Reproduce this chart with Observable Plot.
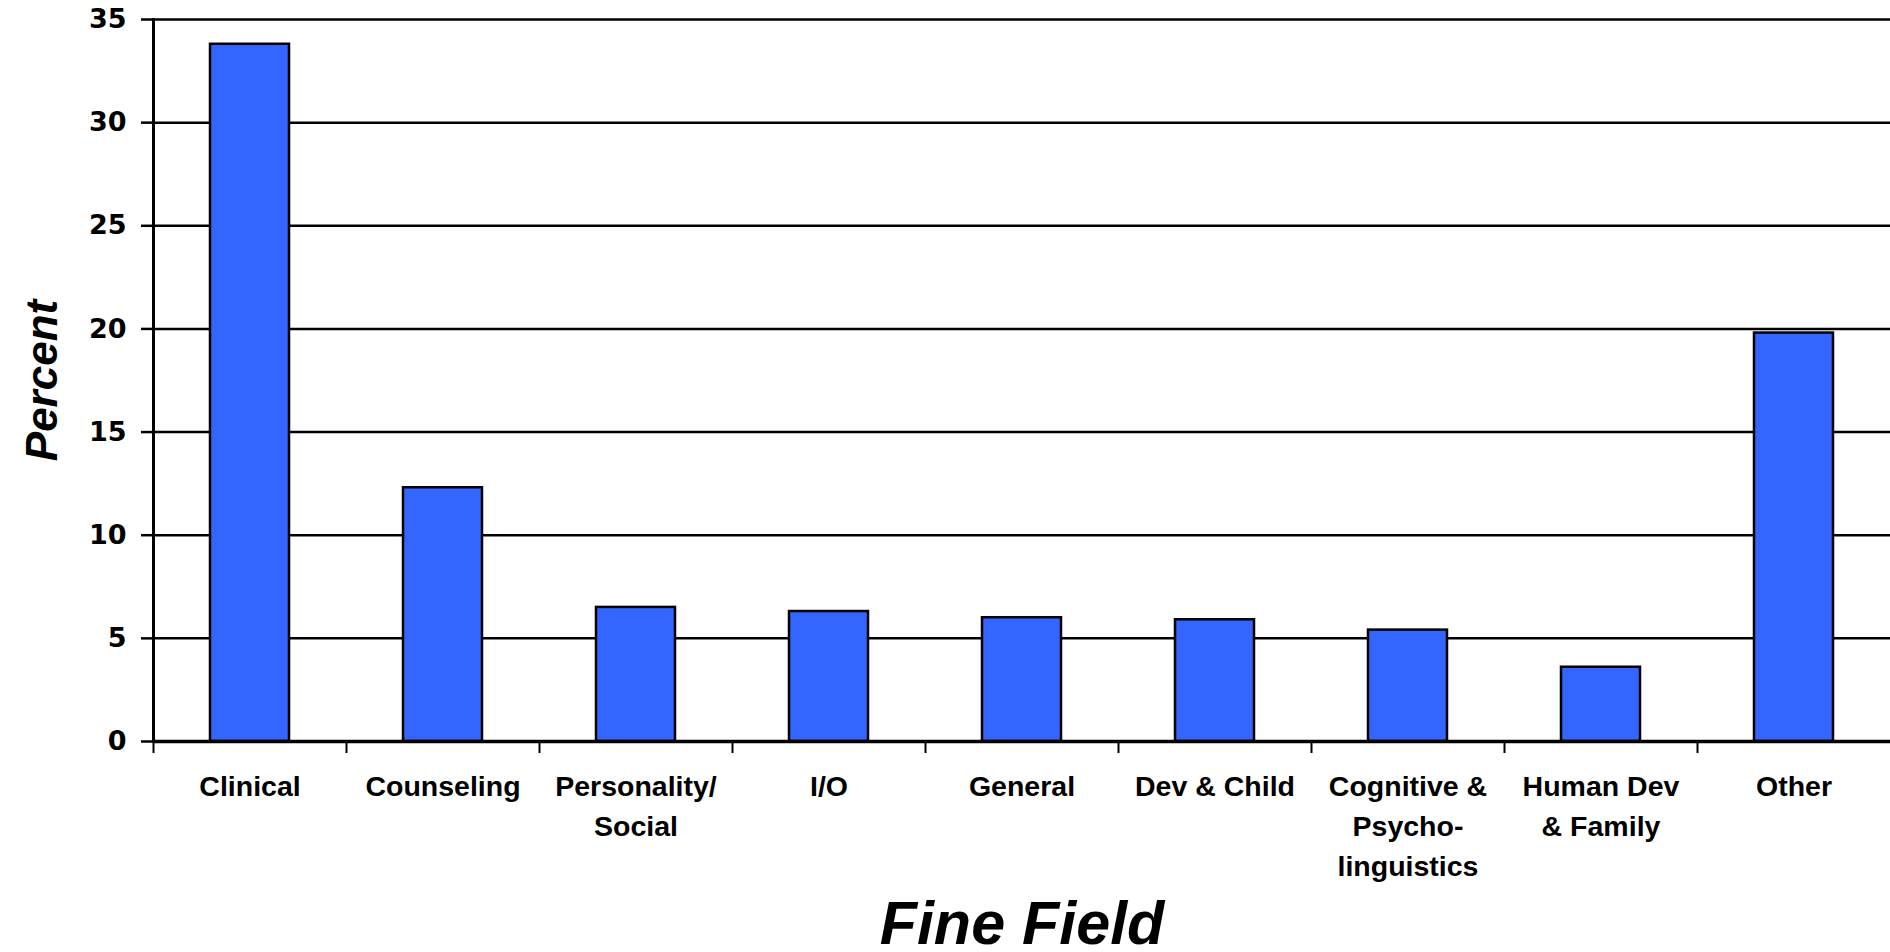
<!DOCTYPE html>
<html><head><meta charset="utf-8">
<script src="https://cdn.jsdelivr.net/npm/d3@7"></script>
<script src="https://cdn.jsdelivr.net/npm/@observablehq/plot@0.6"></script>
<style>html,body{margin:0;padding:0;background:#fff;}</style>
</head><body><div id="chart"></div>
<script>
const categories = ["Clinical","Counseling","Personality/Social","I/O","General","Dev & Child","Cognitive & Psycholinguistics","Human Dev & Family","Other"];
const tickLabels = ["Clinical","Counseling","Personality/\nSocial","I/O","General","Dev & Child","Cognitive &\nPsycho-\nlinguistics","Human Dev\n& Family","Other"];
const percents = [33.8,12.3,6.5,6.3,6.0,5.9,5.4,3.6,19.8];
const yTicks = [0,5,10,15,20,25,30,35];
const yDomain = [0,35];
const xTitle = "Fine Field";
const yTitle = "Percent";

const data = categories.map((c,i)=>({field:c, pct:percents[i]}));
const W=1890, H=952, mL=153, mR=0, mT=19, mB=211;
const step = (W-mL-mR)/categories.length;
const labelOf = new Map(categories.map((c,i)=>[c,tickLabels[i]]));

const chart = Plot.plot({
  width: W, height: H, marginLeft: mL, marginRight: mR, marginTop: mT, marginBottom: mB,
  style: {fontFamily: "'Liberation Sans', Arial, sans-serif", color:"#000", background:"#fff", overflow:"visible"},
  x: {domain: categories, paddingInner: 0.59, paddingOuter: 0.295},
  y: {domain: yDomain},
  marks: [
    Plot.gridY(yTicks, {stroke:"#000", strokeOpacity:1, strokeWidth:2.5}),
    Plot.barY(data, {x:"field", y:"pct", fill:"#3366FF", stroke:"#000", strokeWidth:2.5}),
    Plot.ruleY([0], {stroke:"#000", strokeWidth:3.5}),
    Plot.axisY(yTicks, {tickSize:12, tickPadding:15, tickFormat: d=>String(d), fontSize:27, fontFamily:"'DejaVu Sans', sans-serif", fontWeight:"bold", label:null, strokeWidth:2.5}),
    Plot.frame({anchor:"left", stroke:"#000", strokeWidth:3}),
    Plot.axisX({tickSize:12, dx:-step/2, text:null, label:null, strokeWidth:2}),
    Plot.axisX({tickSize:0, tickPadding:26, tickFormat: d=>labelOf.get(d), fontSize:28.5, fontWeight:"bold", lineHeight:1.4, label:null}),
    Plot.text([yTitle], {frameAnchor:"left", textAnchor:"middle", dx:-111, rotate:-90, fontSize:44, fontWeight:"bold", fontStyle:"italic"}),
    Plot.text([xTitle], {frameAnchor:"bottom", textAnchor:"middle", dy:202, lineAnchor:"bottom", fontSize:61, fontWeight:"bold", fontStyle:"italic"})
  ]
});
document.getElementById("chart").appendChild(chart);
</script>
</body></html>
